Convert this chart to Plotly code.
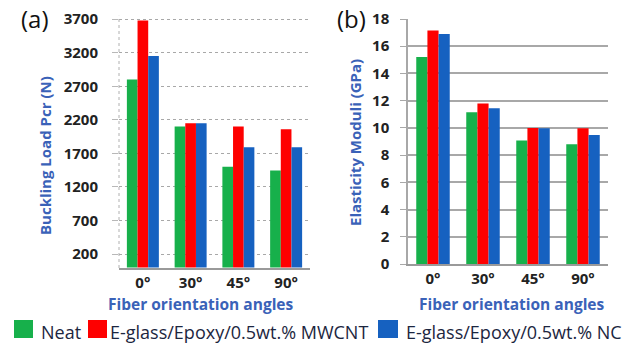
import plotly.graph_objects as go

W, H = 642, 345

angles = ["0°", "30°", "45°", "90°"]
series = ["Neat", "E-glass/Epoxy/0.5wt.% MWCNT", "E-glass/Epoxy/0.5wt.% NC"]
colors = ["#17b04b", "#fe0000", "#1661c0"]

buckling_neat = [2800, 2100, 1500, 1445]
buckling_mwcnt = [3680, 2150, 2100, 2060]
buckling_nc = [3150, 2150, 1790, 1790]

modulus_neat = [15.2, 11.15, 9.07, 8.8]
modulus_mwcnt = [17.15, 11.8, 10.0, 9.98]
modulus_nc = [16.9, 11.45, 9.97, 9.48]

buckling_ticks = [200, 700, 1200, 1700, 2200, 2700, 3200, 3700]
modulus_ticks = [0, 2, 4, 6, 8, 10, 12, 14, 16, 18]

def px(x):
    return x / W

def py(y):
    return 1 - y / H

fig = go.Figure()

for name, vals, c in zip(series, [buckling_neat, buckling_mwcnt, buckling_nc], colors):
    fig.add_trace(go.Bar(x=angles, y=vals, name=name, marker=dict(color=c, line=dict(width=0)),
                         xaxis="x", yaxis="y", showlegend=False))
for name, vals, c in zip(series, [modulus_neat, modulus_mwcnt, modulus_nc], colors):
    fig.add_trace(go.Bar(x=angles, y=vals, name=name, marker=dict(color=c, line=dict(width=0)),
                         xaxis="x2", yaxis="y2", showlegend=False))

tickfont = dict(family="Open Sans", size=15, color="#222222", weight="bold")
titlefont = dict(family="Open Sans", size=15, color="#3a62b8", weight="bold")

fig.update_layout(
    width=W, height=H,
    margin=dict(l=0, r=0, t=0, b=0),
    paper_bgcolor="white", plot_bgcolor="white",
    barmode="group", bargap=0.33, bargroupgap=0,
    showlegend=False,
    xaxis=dict(domain=[px(119), px(310)], anchor="y", tickfont=tickfont,
               showline=True, linecolor="#9a9a9a", linewidth=2, ticks="",
               showgrid=False, automargin=False, ticklabelstandoff=0),
    yaxis=dict(domain=[py(268), py(15.8)], anchor="x", range=[-8, 3750],
               tickvals=buckling_ticks, tickfont=tickfont,
               showgrid=True, gridcolor="#a8a8a8", griddash="dot", gridwidth=1,
               showline=False,
               ticks="outside", ticklen=6, tickcolor="#b8b8b8",
               zeroline=False, automargin=False, ticklabelstandoff=11),
    xaxis2=dict(domain=[px(408), px(608)], anchor="y2", tickfont=tickfont,
                showline=True, linecolor="#9a9a9a", linewidth=2, ticks="",
                showgrid=False, automargin=False, ticklabelstandoff=0),
    yaxis2=dict(domain=[py(264), py(19)], anchor="x2", range=[0, 18],
                tickvals=modulus_ticks, tickfont=tickfont,
                showgrid=True, gridcolor="#a8a8a8", gridwidth=1.5,
                showline=True, linecolor="#a8a8a8", linewidth=1.5,
                ticks="outside", ticklen=6, tickcolor="#a8a8a8",
                zeroline=False, automargin=False, ticklabelstandoff=8),
)

ann = []
ann.append(dict(text="Buckling Load Pcr (N)", x=px(45), y=py(155), textangle=-90,
                font=titlefont))
ann.append(dict(text="Elasticity Moduli (GPa)", x=px(355), y=py(143), textangle=-90,
                font=titlefont))
ann.append(dict(text="Fiber orientation angles", x=px(201), y=py(304), font=dict(titlefont, size=15.5)))
ann.append(dict(text="Fiber orientation angles", x=px(512), y=py(304), font=dict(titlefont, size=15.5)))
ann.append(dict(text="(a)", x=px(35), y=py(18), font=dict(family="Open Sans", size=24, color="#111111")))
ann.append(dict(text="(b)", x=px(351), y=py(18), font=dict(family="Open Sans", size=24, color="#111111")))

legend_font = dict(family="Open Sans", size=18, color="#1c2640")
leg_items = [(14, 33, 39), (88, 107, 108), (378, 398, 404)]
shapes = [dict(type="line", xref="x domain", yref="y domain", x0=0, x1=0, y0=0, y1=1,
               line=dict(color="#b0b0b0", width=1, dash="dot"))]
for (x0, x1, tx), name, c in zip(leg_items, series, colors):
    shapes.append(dict(type="rect", xref="paper", yref="paper",
                       x0=px(x0), x1=px(x1), y0=py(338), y1=py(320),
                       fillcolor=c, line=dict(color=c, width=0)))
    ann.append(dict(text=name, x=px(tx), y=py(332), xanchor="left", font=legend_font))

for a in ann:
    a.update(xref="paper", yref="paper", showarrow=False)
    a.setdefault("xanchor", "center")
    a.setdefault("yanchor", "middle")

fig.update_layout(annotations=ann, shapes=shapes)
fig.write_html("out.html", config={"displayModeBar": False},
               post_script="document.body.style.margin='0';")
